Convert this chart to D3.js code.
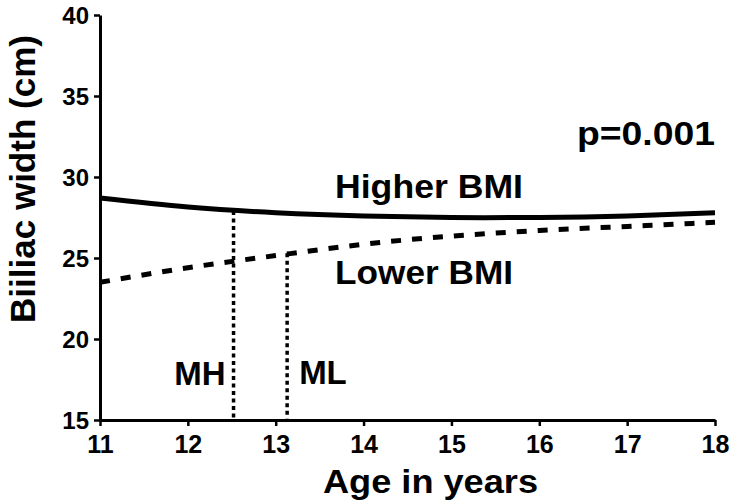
<!DOCTYPE html>
<html>
<head>
<meta charset="utf-8">
<script src="https://cdn.jsdelivr.net/npm/d3@7"></script>
<style>
  html, body { margin: 0; padding: 0; background: #fff; }
  svg { display: block; }
  text { font-family: "Liberation Sans", Arial, Helvetica, sans-serif; font-weight: bold; fill: #000; }
</style>
</head>
<body>
<svg id="chart" width="734" height="503"></svg>
<script>
// Fitted biiliac width by age for the two BMI groups
const ages = [11, 12, 13, 14, 15, 16, 17, 18];
const higherBMI = [28.7, 28.15, 27.8, 27.6, 27.5, 27.5, 27.6, 27.8];
const lowerBMI = [23.5, 24.4, 25.15, 25.85, 26.35, 26.7, 26.95, 27.2];

// Age markers dropped from each curve to the axis
const markerLabels = ["MH", "ML"];
const markerAges = [12.52, 13.13];
const markerTops = [27.9, 25.3];

const xTicks = [11, 12, 13, 14, 15, 16, 17, 18];
const yTicks = [15, 20, 25, 30, 35, 40];

const svg = d3.select("#chart");
const x = d3.scaleLinear().domain([11, 18]).range([100, 715]);
const y = d3.scaleLinear().domain([15, 40]).range([420, 15]);

// Axes
const xAxis = svg.append("g")
  .attr("transform", `translate(0,${y(15)})`)
  .call(d3.axisBottom(x).tickValues(xTicks).tickFormat(d3.format("d")).tickSize(6).tickSizeOuter(0));
const yAxis = svg.append("g")
  .attr("transform", `translate(${x(11)},0)`)
  .call(d3.axisLeft(y).tickValues(yTicks).tickFormat(d3.format("d")).tickSize(6).tickSizeOuter(0));

[xAxis, yAxis].forEach(g => {
  g.select(".domain").attr("stroke", "#000").attr("stroke-width", 3);
  g.selectAll(".tick line").attr("stroke", "#000").attr("stroke-width", 2.5);
  g.selectAll(".tick text").attr("fill", "#000");
});
xAxis.selectAll(".tick text").style("font-size", "25px").attr("dy", "0.95em").attr("y", 9);
yAxis.selectAll(".tick text").style("font-size", "24px").attr("x", -11).attr("dy", "0.36em");

// Curves
const line = d3.line().x(d => x(d[0])).y(d => y(d[1])).curve(d3.curveNatural);

svg.append("path")
  .datum(ages.map((a, i) => [a, higherBMI[i]]))
  .attr("d", line)
  .attr("fill", "none").attr("stroke", "#000").attr("stroke-width", 5);

svg.append("path")
  .datum(ages.map((a, i) => [a, lowerBMI[i]]))
  .attr("d", line)
  .attr("fill", "none").attr("stroke", "#000").attr("stroke-width", 5)
  .attr("stroke-dasharray", "10,11");

// Dotted age markers
markerAges.forEach((a, i) => {
  svg.append("line")
    .attr("x1", x(a)).attr("x2", x(a))
    .attr("y1", y(markerTops[i])).attr("y2", y(15) - 1.5)
    .attr("stroke", "#000").attr("stroke-width", 3.5)
    .attr("stroke-dasharray", "4,3.5");
});

svg.append("text").attr("x", x(markerAges[0]) - 8).attr("y", 385)
  .attr("text-anchor", "end").style("font-size", "33px").text(markerLabels[0]);
svg.append("text").attr("x", x(markerAges[1]) + 12).attr("y", 384)
  .attr("text-anchor", "start").style("font-size", "33px").text(markerLabels[1]);

// Series labels and test result
svg.append("text").attr("x", 335).attr("y", 198).style("font-size", "33px")
  .attr("textLength", 188).attr("lengthAdjust", "spacingAndGlyphs").text("Higher BMI");
svg.append("text").attr("x", 335).attr("y", 284).style("font-size", "33px")
  .attr("textLength", 178).attr("lengthAdjust", "spacingAndGlyphs").text("Lower BMI");
svg.append("text").attr("x", 577).attr("y", 145).style("font-size", "33px")
  .attr("textLength", 138).attr("lengthAdjust", "spacingAndGlyphs").text("p=0.001");

// Axis titles
svg.append("text").attr("x", 323).attr("y", 493).style("font-size", "33px")
  .attr("textLength", 215).attr("lengthAdjust", "spacingAndGlyphs").text("Age in years");
svg.append("text").attr("transform", "translate(35,179) rotate(-90)")
  .attr("text-anchor", "middle").style("font-size", "35px").text("Biiliac width (cm)");
</script>
</body>
</html>
